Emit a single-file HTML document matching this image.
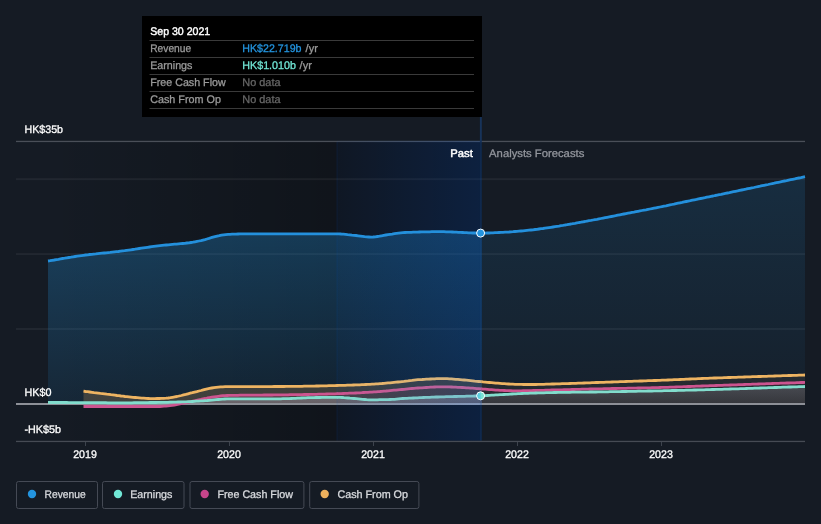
<!DOCTYPE html>
<html lang="en">
<head>
<meta charset="utf-8">
<title>Earnings and Revenue Growth</title>
<style>
html,body{margin:0;padding:0;background:#151b24;}
body{width:821px;height:524px;overflow:hidden;font-family:"Liberation Sans", Arial, Helvetica, sans-serif;}
svg text{font-family:"Liberation Sans", Arial, Helvetica, sans-serif;text-rendering:geometricPrecision;}
</style>
</head>
<body>
<svg width="821" height="524" viewBox="0 0 821 524" font-family='"Liberation Sans", Arial, Helvetica, sans-serif' style="display:block;will-change:transform">
<defs>
<linearGradient id="gDark" x1="0" x2="1" y1="0" y2="0">
  <stop offset="0" stop-color="#000" stop-opacity="0"/>
  <stop offset="0.667" stop-color="#000" stop-opacity="0.26"/>
  <stop offset="1" stop-color="#000" stop-opacity="0.26"/>
</linearGradient>
<linearGradient id="gHL" x1="0" x2="1" y1="0" y2="0">
  <stop offset="0" stop-color="#0050c8" stop-opacity="0.05"/>
  <stop offset="1" stop-color="#0050c8" stop-opacity="0.21"/>
</linearGradient>
<linearGradient id="gRevPast" gradientUnits="userSpaceOnUse" x1="0" x2="0" y1="230" y2="404">
  <stop offset="0" stop-color="#2394df" stop-opacity="0.30"/>
  <stop offset="1" stop-color="#2394df" stop-opacity="0.10"/>
</linearGradient>
<linearGradient id="gRevFut" gradientUnits="userSpaceOnUse" x1="0" x2="0" y1="176" y2="404">
  <stop offset="0" stop-color="#2394df" stop-opacity="0.15"/>
  <stop offset="1" stop-color="#2394df" stop-opacity="0.04"/>
</linearGradient>
<linearGradient id="gErn" gradientUnits="userSpaceOnUse" x1="0" x2="0" y1="386" y2="404">
  <stop offset="0" stop-color="#9a9ea8" stop-opacity="0.27"/>
  <stop offset="1" stop-color="#9a9ea8" stop-opacity="0.10"/>
</linearGradient>
<linearGradient id="gErnP" gradientUnits="userSpaceOnUse" x1="0" x2="0" y1="394" y2="404">
  <stop offset="0" stop-color="#a8b0bc" stop-opacity="0.40"/>
  <stop offset="1" stop-color="#a8b0bc" stop-opacity="0.30"/>
</linearGradient>
<linearGradient id="m_cfo" gradientUnits="userSpaceOnUse" x1="337" x2="481" y1="0" y2="0"><stop offset="0" stop-color="#eeb462"/><stop offset="0.8" stop-color="#d6b47e"/><stop offset="1" stop-color="#d6b47e"/></linearGradient>
<linearGradient id="m_fcf" gradientUnits="userSpaceOnUse" x1="337" x2="481" y1="0" y2="0"><stop offset="0" stop-color="#cc548f"/><stop offset="0.8" stop-color="#b9649f"/><stop offset="1" stop-color="#b9649f"/></linearGradient>
<linearGradient id="m_ern" gradientUnits="userSpaceOnUse" x1="337" x2="481" y1="0" y2="0"><stop offset="0" stop-color="#82ddcd"/><stop offset="0.8" stop-color="#7cc4cc"/><stop offset="1" stop-color="#7cc4cc"/></linearGradient>
<linearGradient id="gDot" x1="0" x2="1" y1="0" y2="0">
  <stop offset="0" stop-color="#56c9e2"/><stop offset="0.45" stop-color="#5fd0dc"/>
  <stop offset="0.6" stop-color="#78e2d2"/><stop offset="1" stop-color="#7fe6d2"/>
</linearGradient>
<linearGradient id="gZeroHL" x1="0" x2="1" y1="0" y2="0">
  <stop offset="0" stop-color="#9fb4dc" stop-opacity="0"/>
  <stop offset="1" stop-color="#9fb4dc" stop-opacity="0.42"/>
</linearGradient>
</defs>
<rect width="821" height="524" fill="#151b24"/>
<rect x="48" y="142" width="433.8" height="299.5" fill="url(#gDark)"/>
<rect x="16" y="178.2" width="789" height="2" fill="#fff" opacity="0.055"/>
<rect x="16" y="253.1" width="789" height="2" fill="#fff" opacity="0.055"/>
<rect x="16" y="328.0" width="789" height="2" fill="#fff" opacity="0.055"/>
<rect x="16" y="140.8" width="789" height="1.3" fill="#4a4f58"/>
<path d="M48.0,261.0 L50.1,260.7 L52.2,260.3 L54.3,260.0 L56.4,259.6 L58.4,259.3 L60.5,258.9 L62.6,258.5 L64.7,258.2 L66.8,257.8 L68.9,257.5 L71.0,257.2 L73.1,256.8 L75.1,256.5 L77.2,256.2 L79.3,255.9 L81.4,255.6 L83.5,255.3 L85.6,255.0 L87.6,254.8 L89.7,254.5 L91.7,254.3 L93.8,254.1 L95.8,253.9 L97.9,253.6 L99.9,253.4 L102.0,253.2 L104.1,253.0 L106.1,252.8 L108.2,252.6 L110.2,252.4 L112.3,252.1 L114.3,251.9 L116.4,251.7 L118.4,251.5 L120.5,251.2 L122.6,250.9 L124.7,250.7 L126.7,250.4 L128.8,250.1 L130.9,249.8 L133.0,249.5 L135.1,249.2 L137.1,248.8 L139.2,248.5 L141.3,248.2 L143.4,247.9 L145.4,247.6 L147.5,247.3 L149.6,247.0 L151.7,246.7 L153.8,246.4 L155.8,246.1 L157.9,245.8 L160.0,245.6 L162.1,245.4 L164.1,245.2 L166.2,245.0 L168.3,244.8 L170.3,244.6 L172.4,244.4 L174.5,244.2 L176.5,244.1 L178.6,243.9 L180.7,243.7 L182.7,243.5 L184.8,243.3 L186.9,243.0 L188.9,242.8 L191.0,242.5 L193.0,242.2 L195.0,241.8 L197.0,241.4 L199.0,241.0 L201.0,240.6 L203.0,240.1 L205.0,239.6 L207.0,239.0 L209.0,238.4 L211.0,237.7 L213.0,237.1 L215.0,236.6 L217.2,236.1 L219.3,235.7 L221.5,235.2 L223.7,234.9 L225.8,234.6 L228.0,234.4 L230.0,234.3 L232.0,234.2 L234.0,234.1 L236.0,234.1 L238.0,234.0 L240.0,233.9 L242.0,233.9 L244.0,233.8 L246.0,233.8 L248.0,233.8 L250.0,233.8 L252.0,233.8 L254.0,233.8 L256.0,233.8 L258.0,233.8 L260.0,233.8 L262.0,233.8 L264.0,233.8 L266.0,233.8 L268.0,233.8 L270.0,233.8 L272.0,233.8 L274.0,233.8 L276.0,233.8 L278.0,233.8 L280.0,233.8 L282.0,233.8 L284.0,233.8 L286.0,233.8 L288.0,233.8 L290.0,233.8 L292.0,233.8 L294.1,233.8 L296.1,233.8 L298.2,233.8 L300.2,233.8 L302.3,233.8 L304.3,233.8 L306.3,233.8 L308.4,233.8 L310.4,233.8 L312.5,233.8 L314.5,233.8 L316.6,233.8 L318.6,233.8 L320.7,233.8 L322.7,233.8 L324.7,233.8 L326.8,233.8 L328.8,233.8 L330.9,233.8 L332.9,233.8 L335.0,233.8 L337.0,233.8 L339.1,233.8 L341.2,234.0 L343.4,234.1 L345.5,234.3 L347.6,234.6 L349.8,234.8 L351.9,235.1 L354.0,235.3 L356.1,235.5 L358.2,235.8 L360.4,236.1 L362.5,236.4 L364.6,236.7 L366.8,236.9 L368.9,237.0 L371.0,237.1 L373.1,237.0 L375.2,236.8 L377.4,236.5 L379.5,236.2 L381.6,235.8 L383.8,235.4 L385.9,235.0 L388.0,234.7 L390.1,234.4 L392.2,234.1 L394.4,233.7 L396.5,233.4 L398.6,233.1 L400.8,232.8 L402.9,232.6 L405.0,232.5 L407.1,232.4 L409.1,232.3 L411.2,232.3 L413.2,232.2 L415.3,232.1 L417.4,232.1 L419.4,232.0 L421.5,231.9 L423.5,231.9 L425.6,231.8 L427.6,231.8 L429.7,231.8 L431.8,231.7 L433.8,231.7 L435.9,231.7 L437.9,231.7 L440.0,231.7 L442.1,231.7 L444.1,231.7 L446.1,231.8 L448.2,231.8 L450.2,231.9 L452.3,232.0 L454.4,232.1 L456.4,232.2 L458.4,232.3 L460.5,232.4 L462.6,232.5 L464.6,232.6 L466.6,232.7 L468.7,232.8 L470.8,232.9 L472.8,233.0 L474.9,233.0 L476.9,233.1 L478.9,233.1 L481.0,233.1 L481.8,233.1 L481.8,404 L48.0,404 Z" fill="url(#gRevPast)"/>
<path d="M481.8,233.1 L483.0,233.1 L485.0,233.1 L487.0,233.0 L489.0,233.0 L491.0,232.9 L493.0,232.8 L495.0,232.7 L497.0,232.6 L499.0,232.5 L501.0,232.4 L503.0,232.3 L505.0,232.2 L507.0,232.1 L509.0,232.0 L511.0,231.8 L513.0,231.7 L515.0,231.5 L517.0,231.4 L519.0,231.2 L521.0,231.0 L523.0,230.8 L525.0,230.6 L527.0,230.4 L529.0,230.2 L531.0,230.0 L533.0,229.8 L535.0,229.5 L537.0,229.3 L539.0,229.0 L541.0,228.7 L543.0,228.5 L545.0,228.2 L547.0,227.9 L549.0,227.6 L551.0,227.3 L553.0,227.0 L555.0,226.7 L557.0,226.4 L559.0,226.1 L561.0,225.7 L563.0,225.4 L565.0,225.0 L567.0,224.7 L569.0,224.3 L571.0,224.0 L573.0,223.6 L575.0,223.3 L577.0,222.9 L579.0,222.5 L581.0,222.2 L583.0,221.8 L585.0,221.5 L587.0,221.1 L589.0,220.7 L591.0,220.4 L593.0,220.0 L595.0,219.6 L597.0,219.3 L599.0,218.9 L601.0,218.5 L603.1,218.1 L605.2,217.7 L607.2,217.3 L609.3,216.9 L611.4,216.5 L613.5,216.1 L615.6,215.7 L617.7,215.2 L619.8,214.8 L621.8,214.4 L623.9,214.0 L626.0,213.6 L628.0,213.2 L630.0,212.8 L632.0,212.4 L634.0,212.1 L636.0,211.7 L638.0,211.3 L640.0,210.9 L642.0,210.5 L644.0,210.1 L646.0,209.8 L648.0,209.4 L650.0,209.0 L652.0,208.6 L654.0,208.2 L656.0,207.8 L658.0,207.4 L660.0,207.0 L662.0,206.6 L664.0,206.2 L666.0,205.8 L668.0,205.3 L670.0,204.9 L672.0,204.5 L674.0,204.1 L676.0,203.6 L678.0,203.2 L680.0,202.8 L682.1,202.4 L684.1,201.9 L686.2,201.5 L688.3,201.1 L690.4,200.7 L692.4,200.2 L694.5,199.8 L696.6,199.4 L698.6,198.9 L700.7,198.5 L702.8,198.1 L704.9,197.7 L706.9,197.2 L709.0,196.8 L711.0,196.4 L713.1,196.0 L715.1,195.5 L717.2,195.1 L719.2,194.7 L721.2,194.3 L723.3,193.8 L725.3,193.4 L727.4,193.0 L729.4,192.6 L731.5,192.1 L733.5,191.7 L735.5,191.3 L737.6,190.9 L739.6,190.4 L741.7,190.0 L743.7,189.6 L745.8,189.2 L747.8,188.7 L749.8,188.3 L751.9,187.9 L753.9,187.5 L756.0,187.0 L758.0,186.6 L760.0,186.2 L762.1,185.7 L764.1,185.3 L766.2,184.9 L768.2,184.5 L770.3,184.0 L772.3,183.6 L774.3,183.2 L776.4,182.7 L778.4,182.3 L780.5,181.9 L782.5,181.4 L784.6,181.0 L786.6,180.6 L788.7,180.1 L790.7,179.7 L792.7,179.3 L794.8,178.9 L796.8,178.4 L798.9,178.0 L800.9,177.6 L803.0,177.1 L805.0,176.7 L805.0,404 L481.8,404 Z" fill="url(#gRevFut)"/>
<path d="M83.5,391.2 L85.6,391.5 L87.7,391.7 L89.8,392.0 L92.0,392.3 L94.1,392.6 L96.2,392.8 L98.3,393.1 L100.4,393.4 L102.5,393.6 L104.7,393.9 L106.8,394.2 L108.9,394.4 L111.0,394.7 L113.0,394.9 L115.0,395.2 L117.0,395.5 L119.0,395.7 L121.0,396.0 L123.0,396.2 L125.0,396.5 L127.0,396.7 L129.0,396.9 L131.0,397.1 L133.0,397.3 L135.2,397.5 L137.3,397.7 L139.5,397.9 L141.7,398.1 L143.8,398.2 L146.0,398.4 L148.2,398.5 L150.3,398.6 L152.5,398.6 L154.8,398.6 L157.0,398.5 L159.2,398.5 L161.5,398.4 L163.8,398.3 L166.0,398.2 L168.2,398.0 L170.4,397.7 L172.6,397.3 L174.8,396.9 L177.0,396.5 L179.2,396.0 L181.4,395.5 L183.6,394.9 L185.8,394.4 L188.0,393.8 L190.2,393.2 L192.4,392.7 L194.6,392.1 L196.8,391.6 L199.0,391.0 L201.1,390.5 L203.2,389.9 L205.3,389.3 L207.4,388.8 L209.5,388.4 L211.7,388.0 L213.9,387.6 L216.1,387.3 L218.3,387.1 L220.5,386.9 L222.8,386.8 L225.1,386.7 L227.4,386.7 L229.7,386.6 L232.0,386.6 L234.0,386.6 L236.0,386.6 L238.0,386.6 L240.0,386.6 L242.0,386.6 L244.0,386.6 L246.0,386.6 L248.0,386.6 L250.0,386.6 L252.0,386.6 L254.0,386.6 L256.0,386.6 L258.0,386.6 L260.0,386.6 L262.0,386.6 L264.0,386.6 L266.0,386.6 L268.0,386.6 L270.0,386.6 L272.0,386.6 L274.0,386.5 L276.0,386.5 L278.0,386.5 L280.0,386.5 L282.0,386.5 L284.0,386.5 L286.0,386.4 L288.0,386.4 L290.0,386.4 L292.0,386.4 L294.0,386.4 L296.0,386.3 L298.0,386.3 L300.0,386.3 L302.1,386.3 L304.1,386.2 L306.2,386.2 L308.2,386.2 L310.3,386.1 L312.3,386.1 L314.4,386.1 L316.4,386.0 L318.5,386.0 L320.6,385.9 L322.6,385.9 L324.7,385.8 L326.7,385.8 L328.8,385.7 L330.8,385.7 L332.9,385.6 L334.9,385.6 L337.0,385.5 L339.1,385.4 L341.1,385.4 L343.2,385.3 L345.2,385.3 L347.3,385.2 L349.4,385.1 L351.4,385.1 L353.5,385.0 L355.6,384.9 L357.6,384.8 L359.7,384.8 L361.8,384.7 L363.8,384.6 L365.9,384.5 L367.9,384.4 L370.0,384.3 L372.0,384.2 L374.0,384.1 L376.0,383.9 L378.0,383.8 L380.0,383.6 L382.0,383.5 L384.0,383.3 L386.0,383.1 L388.0,382.9 L390.0,382.8 L392.0,382.6 L394.0,382.4 L396.0,382.2 L398.0,382.0 L400.0,381.8 L402.0,381.6 L404.0,381.4 L406.0,381.1 L408.0,380.9 L410.0,380.6 L412.0,380.4 L414.0,380.1 L416.0,379.9 L418.0,379.7 L420.0,379.6 L422.1,379.5 L424.2,379.3 L426.3,379.2 L428.4,379.1 L430.5,379.0 L432.5,378.9 L434.6,378.8 L436.7,378.7 L438.8,378.6 L440.9,378.6 L443.0,378.6 L445.1,378.6 L447.2,378.7 L449.4,378.8 L451.5,378.9 L453.6,379.1 L455.8,379.3 L457.9,379.4 L460.0,379.6 L462.1,379.8 L464.2,380.0 L466.3,380.2 L468.4,380.4 L470.5,380.6 L472.6,380.8 L474.7,381.1 L476.8,381.3 L478.9,381.5 L481.0,381.7 L481.8,381.8 L481.8,404 L83.5,404 Z" fill="#eeb15d" opacity="0.2"/>
<path d="M481.8,381.8 L483.1,381.9 L485.2,382.1 L487.3,382.3 L489.4,382.5 L491.6,382.7 L493.7,382.9 L495.8,383.1 L497.9,383.2 L500.0,383.4 L502.1,383.6 L504.3,383.7 L506.4,383.9 L508.6,384.0 L510.7,384.1 L512.9,384.2 L515.0,384.3 L517.1,384.3 L519.3,384.4 L521.4,384.4 L523.6,384.5 L525.7,384.5 L527.9,384.5 L530.0,384.5 L532.0,384.5 L534.0,384.5 L536.0,384.5 L538.0,384.4 L540.0,384.4 L542.0,384.3 L544.0,384.3 L546.0,384.2 L548.0,384.2 L550.0,384.1 L552.0,384.0 L554.0,384.0 L556.0,383.9 L558.0,383.9 L560.0,383.8 L562.0,383.7 L564.0,383.7 L566.0,383.6 L568.0,383.6 L570.0,383.5 L572.0,383.4 L574.0,383.4 L576.0,383.3 L578.0,383.2 L580.0,383.1 L582.0,383.1 L584.0,383.0 L586.0,382.9 L588.0,382.8 L590.0,382.8 L592.0,382.7 L594.0,382.6 L596.0,382.5 L598.0,382.5 L600.0,382.4 L602.0,382.3 L604.0,382.3 L606.0,382.2 L608.0,382.1 L610.0,382.1 L612.0,382.0 L614.0,381.9 L616.0,381.9 L618.0,381.8 L620.0,381.7 L622.0,381.6 L624.0,381.6 L626.0,381.5 L628.0,381.4 L630.0,381.4 L632.0,381.3 L634.0,381.2 L636.0,381.2 L638.0,381.1 L640.0,381.0 L642.0,381.0 L644.0,380.9 L646.0,380.8 L648.0,380.7 L650.0,380.7 L652.0,380.6 L654.0,380.5 L656.0,380.5 L658.0,380.4 L660.0,380.3 L662.0,380.2 L664.0,380.1 L666.0,380.1 L668.0,380.0 L670.0,379.9 L672.0,379.8 L674.0,379.7 L676.0,379.6 L678.0,379.6 L680.0,379.5 L682.0,379.4 L684.0,379.3 L686.0,379.2 L688.0,379.1 L690.0,379.0 L692.0,378.9 L694.0,378.9 L696.0,378.8 L698.0,378.7 L700.0,378.6 L702.0,378.5 L704.0,378.4 L706.0,378.4 L708.0,378.3 L710.0,378.2 L712.0,378.1 L714.0,378.0 L716.1,378.0 L718.1,377.9 L720.1,377.8 L722.1,377.8 L724.1,377.7 L726.2,377.6 L728.2,377.5 L730.2,377.5 L732.2,377.4 L734.3,377.3 L736.3,377.3 L738.3,377.2 L740.3,377.1 L742.3,377.1 L744.4,377.0 L746.4,376.9 L748.4,376.9 L750.4,376.8 L752.4,376.7 L754.5,376.7 L756.5,376.6 L758.5,376.5 L760.5,376.5 L762.6,376.4 L764.6,376.3 L766.6,376.3 L768.6,376.2 L770.6,376.1 L772.7,376.1 L774.7,376.0 L776.7,375.9 L778.7,375.9 L780.7,375.8 L782.8,375.7 L784.8,375.7 L786.8,375.6 L788.8,375.5 L790.9,375.5 L792.9,375.4 L794.9,375.3 L796.9,375.3 L798.9,375.2 L801.0,375.1 L803.0,375.1 L805.0,375.0 L805.0,404 L481.8,404 Z" fill="#eeb15d" opacity="0.075"/>
<path d="M83.5,406.5 L85.5,406.5 L87.6,406.5 L89.6,406.5 L91.6,406.5 L93.6,406.5 L95.7,406.5 L97.7,406.5 L99.7,406.5 L101.8,406.5 L103.8,406.5 L105.8,406.5 L107.8,406.5 L109.9,406.5 L111.9,406.5 L113.9,406.5 L115.9,406.5 L118.0,406.5 L120.0,406.5 L122.0,406.5 L124.0,406.5 L126.0,406.5 L128.0,406.5 L130.0,406.5 L132.0,406.5 L134.0,406.5 L136.0,406.5 L138.0,406.5 L140.0,406.5 L142.0,406.5 L144.0,406.5 L146.0,406.5 L148.0,406.5 L150.0,406.5 L152.0,406.5 L154.0,406.5 L156.0,406.5 L158.0,406.5 L160.0,406.5 L162.0,406.4 L164.0,406.2 L166.0,406.1 L168.0,405.9 L170.0,405.7 L172.2,405.4 L174.4,405.0 L176.6,404.6 L178.8,404.2 L181.0,403.7 L183.2,403.2 L185.4,402.8 L187.6,402.3 L189.8,401.8 L192.0,401.3 L194.2,400.8 L196.4,400.3 L198.6,399.8 L200.8,399.4 L203.0,398.9 L205.2,398.5 L207.4,398.0 L209.6,397.6 L211.8,397.2 L214.0,396.9 L216.2,396.6 L218.4,396.3 L220.6,396.0 L222.8,395.7 L225.0,395.6 L227.2,395.5 L229.4,395.4 L231.6,395.4 L233.8,395.3 L236.0,395.3 L238.0,395.3 L240.0,395.2 L242.0,395.2 L244.0,395.2 L246.0,395.2 L248.0,395.2 L250.0,395.2 L252.0,395.2 L254.0,395.1 L256.0,395.1 L258.0,395.1 L260.0,395.1 L262.0,395.1 L264.0,395.0 L266.0,395.0 L268.0,395.0 L270.0,395.0 L272.0,395.0 L274.0,394.9 L276.0,394.9 L278.0,394.9 L280.0,394.9 L282.0,394.8 L284.0,394.8 L286.0,394.8 L288.0,394.8 L290.0,394.7 L292.0,394.7 L294.0,394.7 L296.0,394.7 L298.0,394.6 L300.0,394.6 L302.1,394.6 L304.1,394.5 L306.2,394.5 L308.2,394.5 L310.3,394.4 L312.3,394.4 L314.4,394.3 L316.4,394.3 L318.5,394.2 L320.6,394.2 L322.6,394.1 L324.7,394.1 L326.7,394.0 L328.8,393.9 L330.8,393.9 L332.9,393.8 L334.9,393.8 L337.0,393.7 L339.1,393.6 L341.1,393.6 L343.2,393.5 L345.2,393.4 L347.3,393.3 L349.4,393.2 L351.4,393.2 L353.5,393.1 L355.6,393.0 L357.6,392.9 L359.7,392.8 L361.8,392.7 L363.8,392.5 L365.9,392.4 L367.9,392.3 L370.0,392.2 L372.0,392.1 L374.0,391.9 L376.0,391.8 L378.0,391.6 L380.0,391.5 L382.0,391.3 L384.0,391.1 L386.0,391.0 L388.0,390.8 L390.0,390.6 L392.0,390.4 L394.0,390.2 L396.0,390.1 L398.0,389.9 L400.0,389.7 L402.0,389.5 L404.0,389.3 L406.0,389.1 L408.0,388.9 L410.0,388.7 L412.0,388.5 L414.0,388.4 L416.0,388.2 L418.0,388.0 L420.0,387.9 L422.1,387.8 L424.2,387.6 L426.3,387.5 L428.4,387.4 L430.5,387.2 L432.5,387.1 L434.6,387.0 L436.7,386.9 L438.8,386.9 L440.9,386.8 L443.0,386.8 L445.1,386.8 L447.2,386.9 L449.4,386.9 L451.5,387.0 L453.6,387.1 L455.8,387.2 L457.9,387.3 L460.0,387.4 L462.1,387.5 L464.2,387.6 L466.3,387.8 L468.4,387.9 L470.5,388.1 L472.6,388.2 L474.7,388.4 L476.8,388.6 L478.9,388.7 L481.0,388.9 L481.8,389.0 L481.8,404 L83.5,404 Z" fill="#c7458b" opacity="0.09"/>
<path d="M481.8,389.0 L483.1,389.1 L485.2,389.2 L487.3,389.4 L489.4,389.6 L491.6,389.7 L493.7,389.9 L495.8,390.1 L497.9,390.2 L500.0,390.3 L502.1,390.4 L504.3,390.5 L506.4,390.6 L508.6,390.7 L510.7,390.7 L512.9,390.8 L515.0,390.8 L517.0,390.8 L519.1,390.8 L521.1,390.8 L523.2,390.7 L525.2,390.7 L527.3,390.7 L529.3,390.6 L531.4,390.6 L533.4,390.5 L535.5,390.5 L537.5,390.4 L539.5,390.4 L541.6,390.3 L543.6,390.3 L545.7,390.2 L547.7,390.1 L549.8,390.1 L551.8,390.0 L553.9,390.0 L555.9,389.9 L558.0,389.8 L560.0,389.8 L562.0,389.8 L564.0,389.7 L566.0,389.7 L568.0,389.6 L570.0,389.6 L572.0,389.5 L574.0,389.5 L576.0,389.4 L578.0,389.4 L580.0,389.3 L582.0,389.2 L584.0,389.2 L586.0,389.1 L588.0,389.1 L590.0,389.0 L592.0,389.0 L594.0,388.9 L596.0,388.9 L598.0,388.8 L600.0,388.8 L602.0,388.8 L604.0,388.7 L606.0,388.7 L608.0,388.6 L610.0,388.6 L612.0,388.5 L614.0,388.5 L616.0,388.5 L618.0,388.4 L620.0,388.4 L622.0,388.3 L624.0,388.3 L626.0,388.3 L628.0,388.2 L630.0,388.2 L632.0,388.1 L634.0,388.1 L636.0,388.1 L638.0,388.0 L640.0,388.0 L642.0,387.9 L644.0,387.9 L646.0,387.8 L648.0,387.8 L650.0,387.8 L652.0,387.7 L654.0,387.7 L656.0,387.6 L658.0,387.6 L660.0,387.5 L662.0,387.4 L664.0,387.4 L666.0,387.3 L668.0,387.3 L670.0,387.2 L672.0,387.1 L674.0,387.1 L676.0,387.0 L678.0,386.9 L680.0,386.8 L682.0,386.8 L684.0,386.7 L686.0,386.6 L688.0,386.5 L690.0,386.5 L692.0,386.4 L694.0,386.3 L696.0,386.2 L698.0,386.1 L700.0,386.1 L702.0,386.0 L704.0,385.9 L706.0,385.8 L708.0,385.8 L710.0,385.7 L712.0,385.6 L714.0,385.6 L716.1,385.5 L718.1,385.4 L720.1,385.3 L722.1,385.3 L724.1,385.2 L726.2,385.1 L728.2,385.1 L730.2,385.0 L732.2,384.9 L734.3,384.8 L736.3,384.8 L738.3,384.7 L740.3,384.6 L742.3,384.6 L744.4,384.5 L746.4,384.4 L748.4,384.4 L750.4,384.3 L752.4,384.2 L754.5,384.1 L756.5,384.1 L758.5,384.0 L760.5,383.9 L762.6,383.9 L764.6,383.8 L766.6,383.7 L768.6,383.7 L770.6,383.6 L772.7,383.5 L774.7,383.4 L776.7,383.4 L778.7,383.3 L780.7,383.2 L782.8,383.2 L784.8,383.1 L786.8,383.0 L788.8,383.0 L790.9,382.9 L792.9,382.8 L794.9,382.8 L796.9,382.7 L798.9,382.6 L801.0,382.5 L803.0,382.5 L805.0,382.4 L805.0,404 L481.8,404 Z" fill="#c7458b" opacity="0.025"/>
<path d="M48.0,402.5 L50.1,402.5 L52.2,402.5 L54.3,402.5 L56.4,402.5 L58.4,402.5 L60.5,402.5 L62.6,402.5 L64.7,402.5 L66.8,402.5 L68.9,402.6 L71.0,402.6 L73.1,402.6 L75.1,402.6 L77.2,402.6 L79.3,402.6 L81.4,402.6 L83.5,402.6 L85.5,402.6 L87.6,402.6 L89.6,402.6 L91.6,402.6 L93.6,402.7 L95.7,402.7 L97.7,402.7 L99.7,402.7 L101.8,402.7 L103.8,402.7 L105.8,402.7 L107.8,402.8 L109.9,402.8 L111.9,402.8 L113.9,402.8 L115.9,402.8 L118.0,402.8 L120.0,402.8 L122.0,402.8 L124.0,402.8 L126.0,402.8 L128.0,402.8 L130.0,402.8 L132.0,402.8 L134.0,402.7 L136.0,402.7 L138.0,402.7 L140.0,402.7 L142.0,402.6 L144.0,402.6 L146.0,402.6 L148.0,402.6 L150.0,402.5 L152.0,402.5 L154.0,402.5 L156.0,402.5 L158.0,402.4 L160.0,402.4 L162.0,402.4 L164.0,402.3 L166.0,402.3 L168.0,402.3 L170.0,402.2 L172.0,402.2 L174.0,402.1 L176.0,402.1 L178.0,402.0 L180.0,402.0 L182.0,401.9 L184.0,401.8 L186.0,401.8 L188.0,401.7 L190.2,401.6 L192.3,401.5 L194.4,401.4 L196.6,401.2 L198.8,401.1 L200.9,400.9 L203.1,400.8 L205.2,400.6 L207.3,400.5 L209.5,400.3 L211.7,400.1 L213.9,399.9 L216.1,399.7 L218.2,399.5 L220.4,399.3 L222.6,399.1 L224.8,399.0 L227.0,398.9 L229.2,398.9 L231.3,398.8 L233.5,398.8 L235.7,398.8 L237.8,398.8 L240.0,398.8 L242.0,398.8 L244.0,398.8 L246.0,398.8 L248.0,398.8 L250.0,398.9 L252.0,398.9 L254.0,398.9 L256.0,398.9 L258.0,398.9 L260.1,398.9 L262.2,398.9 L264.2,398.9 L266.3,398.9 L268.4,398.9 L270.5,398.9 L272.5,398.8 L274.6,398.8 L276.7,398.8 L278.8,398.8 L280.8,398.8 L282.9,398.7 L285.0,398.7 L287.1,398.7 L289.2,398.6 L291.2,398.5 L293.3,398.4 L295.4,398.3 L297.5,398.2 L299.5,398.1 L301.6,398.0 L303.7,397.9 L305.8,397.8 L307.8,397.7 L309.9,397.7 L312.0,397.6 L314.0,397.6 L316.0,397.5 L318.0,397.5 L320.0,397.5 L322.0,397.4 L324.0,397.4 L326.0,397.4 L328.0,397.3 L330.0,397.3 L332.0,397.3 L334.0,397.3 L336.0,397.3 L338.0,397.3 L340.0,397.4 L342.0,397.5 L344.0,397.7 L346.0,397.8 L348.0,398.0 L350.0,398.2 L352.0,398.3 L354.1,398.5 L356.2,398.7 L358.3,398.9 L360.4,399.1 L362.6,399.3 L364.7,399.5 L366.8,399.7 L368.9,399.8 L371.0,399.8 L373.1,399.8 L375.2,399.8 L377.4,399.8 L379.5,399.7 L381.6,399.7 L383.8,399.7 L385.9,399.6 L388.0,399.6 L390.1,399.5 L392.2,399.4 L394.4,399.3 L396.5,399.1 L398.6,398.9 L400.8,398.7 L402.9,398.5 L405.0,398.4 L407.1,398.3 L409.1,398.2 L411.2,398.1 L413.2,398.0 L415.3,397.9 L417.4,397.8 L419.4,397.7 L421.5,397.6 L423.5,397.5 L425.6,397.4 L427.6,397.3 L429.7,397.3 L431.8,397.2 L433.8,397.1 L435.9,397.0 L437.9,397.0 L440.0,396.9 L442.1,396.8 L444.1,396.8 L446.1,396.7 L448.2,396.7 L450.2,396.6 L452.3,396.6 L454.4,396.5 L456.4,396.5 L458.4,396.4 L460.5,396.4 L462.6,396.3 L464.6,396.3 L466.6,396.2 L468.7,396.2 L470.8,396.1 L472.8,396.1 L474.9,396.0 L476.9,395.9 L478.9,395.9 L481.0,395.8 L481.8,395.8 L481.8,404 L48.0,404 Z" fill="url(#gErnP)"/>
<path d="M481.8,395.8 L483.1,395.7 L485.2,395.6 L487.3,395.5 L489.4,395.4 L491.6,395.2 L493.7,395.1 L495.8,394.9 L497.9,394.8 L500.0,394.7 L502.0,394.6 L504.0,394.5 L506.0,394.4 L508.0,394.3 L510.0,394.1 L512.0,394.0 L514.0,393.9 L516.0,393.8 L518.0,393.7 L520.0,393.6 L522.0,393.5 L524.0,393.4 L526.0,393.4 L528.0,393.3 L530.0,393.2 L532.0,393.1 L534.0,393.1 L536.0,393.0 L538.0,392.9 L540.0,392.9 L542.0,392.8 L544.0,392.8 L546.0,392.7 L548.0,392.7 L550.0,392.6 L552.0,392.6 L554.0,392.5 L556.0,392.5 L558.0,392.4 L560.0,392.4 L562.0,392.4 L564.0,392.3 L566.0,392.3 L568.0,392.3 L570.0,392.3 L572.0,392.2 L574.0,392.2 L576.0,392.2 L578.0,392.2 L580.0,392.1 L582.0,392.1 L584.0,392.1 L586.0,392.1 L588.0,392.1 L590.0,392.0 L592.0,392.0 L594.0,392.0 L596.0,392.0 L598.0,391.9 L600.0,391.9 L602.0,391.9 L604.0,391.8 L606.0,391.8 L608.0,391.8 L610.0,391.7 L612.0,391.7 L614.0,391.7 L616.0,391.6 L618.0,391.6 L620.0,391.6 L622.0,391.5 L624.0,391.5 L626.0,391.5 L628.0,391.4 L630.0,391.4 L632.0,391.4 L634.0,391.3 L636.0,391.3 L638.0,391.2 L640.0,391.2 L642.0,391.2 L644.0,391.1 L646.0,391.1 L648.0,391.0 L650.0,391.0 L652.0,391.0 L654.0,390.9 L656.0,390.9 L658.0,390.8 L660.0,390.8 L662.0,390.8 L664.0,390.7 L666.0,390.7 L668.0,390.6 L670.0,390.6 L672.0,390.5 L674.0,390.5 L676.0,390.5 L678.0,390.4 L680.0,390.4 L682.0,390.3 L684.0,390.3 L686.0,390.2 L688.0,390.2 L690.0,390.1 L692.0,390.1 L694.0,390.0 L696.0,390.0 L698.0,389.9 L700.0,389.9 L702.0,389.8 L704.0,389.8 L706.0,389.7 L708.0,389.7 L710.0,389.6 L712.0,389.5 L714.0,389.5 L716.1,389.4 L718.1,389.4 L720.1,389.3 L722.1,389.3 L724.1,389.2 L726.2,389.1 L728.2,389.1 L730.2,389.0 L732.2,388.9 L734.3,388.9 L736.3,388.8 L738.3,388.8 L740.3,388.7 L742.3,388.6 L744.4,388.6 L746.4,388.5 L748.4,388.4 L750.4,388.4 L752.4,388.3 L754.5,388.2 L756.5,388.1 L758.5,388.1 L760.5,388.0 L762.6,387.9 L764.6,387.9 L766.6,387.8 L768.6,387.7 L770.6,387.7 L772.7,387.6 L774.7,387.5 L776.7,387.5 L778.7,387.4 L780.7,387.3 L782.8,387.2 L784.8,387.2 L786.8,387.1 L788.8,387.0 L790.9,387.0 L792.9,386.9 L794.9,386.8 L796.9,386.8 L798.9,386.7 L801.0,386.6 L803.0,386.6 L805.0,386.5 L805.0,404 L481.8,404 Z" fill="url(#gErn)"/>
<rect x="16" y="403" width="789" height="2" fill="#8d9097"/>
<rect x="16" y="441" width="789" height="1" fill="#454b54"/>
<rect x="85" y="442" width="1" height="4" fill="#3d434d"/>
<text x="73.2" y="457.8" font-size="11" fill="#fff" text-anchor="start" font-weight="normal" textLength="23.6" lengthAdjust="spacingAndGlyphs" stroke="#fff" stroke-width="0.3">2019</text>
<rect x="229" y="442" width="1" height="4" fill="#3d434d"/>
<text x="217.2" y="457.8" font-size="11" fill="#fff" text-anchor="start" font-weight="normal" textLength="23.6" lengthAdjust="spacingAndGlyphs" stroke="#fff" stroke-width="0.3">2020</text>
<rect x="373" y="442" width="1" height="4" fill="#3d434d"/>
<text x="361.2" y="457.8" font-size="11" fill="#fff" text-anchor="start" font-weight="normal" textLength="23.6" lengthAdjust="spacingAndGlyphs" stroke="#fff" stroke-width="0.3">2021</text>
<rect x="517" y="442" width="1" height="4" fill="#3d434d"/>
<text x="505.2" y="457.8" font-size="11" fill="#fff" text-anchor="start" font-weight="normal" textLength="23.6" lengthAdjust="spacingAndGlyphs" stroke="#fff" stroke-width="0.3">2022</text>
<rect x="661" y="442" width="1" height="4" fill="#3d434d"/>
<text x="649.2" y="457.8" font-size="11" fill="#fff" text-anchor="start" font-weight="normal" textLength="23.6" lengthAdjust="spacingAndGlyphs" stroke="#fff" stroke-width="0.3">2023</text>
<rect x="337" y="140.8" width="144.8" height="300.0" fill="url(#gHL)"/>
<rect x="336" y="142" width="2" height="298.8" fill="#0050c8" opacity="0.06"/>
<rect x="337" y="403" width="144.8" height="2" fill="url(#gZeroHL)"/>
<rect x="479.9" y="117" width="1.9" height="25" fill="#17335a"/>
<rect x="479.9" y="142" width="1.9" height="298.8" fill="#1c4a86" opacity="0.2"/>
<path d="M48.0,261.0 L50.1,260.7 L52.2,260.3 L54.3,260.0 L56.4,259.6 L58.4,259.3 L60.5,258.9 L62.6,258.5 L64.7,258.2 L66.8,257.8 L68.9,257.5 L71.0,257.2 L73.1,256.8 L75.1,256.5 L77.2,256.2 L79.3,255.9 L81.4,255.6 L83.5,255.3 L85.6,255.0 L87.6,254.8 L89.7,254.5 L91.7,254.3 L93.8,254.1 L95.8,253.9 L97.9,253.6 L99.9,253.4 L102.0,253.2 L104.1,253.0 L106.1,252.8 L108.2,252.6 L110.2,252.4 L112.3,252.1 L114.3,251.9 L116.4,251.7 L118.4,251.5 L120.5,251.2 L122.6,250.9 L124.7,250.7 L126.7,250.4 L128.8,250.1 L130.9,249.8 L133.0,249.5 L135.1,249.2 L137.1,248.8 L139.2,248.5 L141.3,248.2 L143.4,247.9 L145.4,247.6 L147.5,247.3 L149.6,247.0 L151.7,246.7 L153.8,246.4 L155.8,246.1 L157.9,245.8 L160.0,245.6 L162.1,245.4 L164.1,245.2 L166.2,245.0 L168.3,244.8 L170.3,244.6 L172.4,244.4 L174.5,244.2 L176.5,244.1 L178.6,243.9 L180.7,243.7 L182.7,243.5 L184.8,243.3 L186.9,243.0 L188.9,242.8 L191.0,242.5 L193.0,242.2 L195.0,241.8 L197.0,241.4 L199.0,241.0 L201.0,240.6 L203.0,240.1 L205.0,239.6 L207.0,239.0 L209.0,238.4 L211.0,237.7 L213.0,237.1 L215.0,236.6 L217.2,236.1 L219.3,235.7 L221.5,235.2 L223.7,234.9 L225.8,234.6 L228.0,234.4 L230.0,234.3 L232.0,234.2 L234.0,234.1 L236.0,234.1 L238.0,234.0 L240.0,233.9 L242.0,233.9 L244.0,233.8 L246.0,233.8 L248.0,233.8 L250.0,233.8 L252.0,233.8 L254.0,233.8 L256.0,233.8 L258.0,233.8 L260.0,233.8 L262.0,233.8 L264.0,233.8 L266.0,233.8 L268.0,233.8 L270.0,233.8 L272.0,233.8 L274.0,233.8 L276.0,233.8 L278.0,233.8 L280.0,233.8 L282.0,233.8 L284.0,233.8 L286.0,233.8 L288.0,233.8 L290.0,233.8 L292.0,233.8 L294.1,233.8 L296.1,233.8 L298.2,233.8 L300.2,233.8 L302.3,233.8 L304.3,233.8 L306.3,233.8 L308.4,233.8 L310.4,233.8 L312.5,233.8 L314.5,233.8 L316.6,233.8 L318.6,233.8 L320.7,233.8 L322.7,233.8 L324.7,233.8 L326.8,233.8 L328.8,233.8 L330.9,233.8 L332.9,233.8 L335.0,233.8 L337.0,233.8 L339.1,233.8 L341.2,234.0 L343.4,234.1 L345.5,234.3 L347.6,234.6 L349.8,234.8 L351.9,235.1 L354.0,235.3 L356.1,235.5 L358.2,235.8 L360.4,236.1 L362.5,236.4 L364.6,236.7 L366.8,236.9 L368.9,237.0 L371.0,237.1 L373.1,237.0 L375.2,236.8 L377.4,236.5 L379.5,236.2 L381.6,235.8 L383.8,235.4 L385.9,235.0 L388.0,234.7 L390.1,234.4 L392.2,234.1 L394.4,233.7 L396.5,233.4 L398.6,233.1 L400.8,232.8 L402.9,232.6 L405.0,232.5 L407.1,232.4 L409.1,232.3 L411.2,232.3 L413.2,232.2 L415.3,232.1 L417.4,232.1 L419.4,232.0 L421.5,231.9 L423.5,231.9 L425.6,231.8 L427.6,231.8 L429.7,231.8 L431.8,231.7 L433.8,231.7 L435.9,231.7 L437.9,231.7 L440.0,231.7 L442.1,231.7 L444.1,231.7 L446.1,231.8 L448.2,231.8 L450.2,231.9 L452.3,232.0 L454.4,232.1 L456.4,232.2 L458.4,232.3 L460.5,232.4 L462.6,232.5 L464.6,232.6 L466.6,232.7 L468.7,232.8 L470.8,232.9 L472.8,233.0 L474.9,233.0 L476.9,233.1 L478.9,233.1 L481.0,233.1 L483.0,233.1 L485.0,233.1 L487.0,233.0 L489.0,233.0 L491.0,232.9 L493.0,232.8 L495.0,232.7 L497.0,232.6 L499.0,232.5 L501.0,232.4 L503.0,232.3 L505.0,232.2 L507.0,232.1 L509.0,232.0 L511.0,231.8 L513.0,231.7 L515.0,231.5 L517.0,231.4 L519.0,231.2 L521.0,231.0 L523.0,230.8 L525.0,230.6 L527.0,230.4 L529.0,230.2 L531.0,230.0 L533.0,229.8 L535.0,229.5 L537.0,229.3 L539.0,229.0 L541.0,228.7 L543.0,228.5 L545.0,228.2 L547.0,227.9 L549.0,227.6 L551.0,227.3 L553.0,227.0 L555.0,226.7 L557.0,226.4 L559.0,226.1 L561.0,225.7 L563.0,225.4 L565.0,225.0 L567.0,224.7 L569.0,224.3 L571.0,224.0 L573.0,223.6 L575.0,223.3 L577.0,222.9 L579.0,222.5 L581.0,222.2 L583.0,221.8 L585.0,221.5 L587.0,221.1 L589.0,220.7 L591.0,220.4 L593.0,220.0 L595.0,219.6 L597.0,219.3 L599.0,218.9 L601.0,218.5 L603.1,218.1 L605.2,217.7 L607.2,217.3 L609.3,216.9 L611.4,216.5 L613.5,216.1 L615.6,215.7 L617.7,215.2 L619.8,214.8 L621.8,214.4 L623.9,214.0 L626.0,213.6 L628.0,213.2 L630.0,212.8 L632.0,212.4 L634.0,212.1 L636.0,211.7 L638.0,211.3 L640.0,210.9 L642.0,210.5 L644.0,210.1 L646.0,209.8 L648.0,209.4 L650.0,209.0 L652.0,208.6 L654.0,208.2 L656.0,207.8 L658.0,207.4 L660.0,207.0 L662.0,206.6 L664.0,206.2 L666.0,205.8 L668.0,205.3 L670.0,204.9 L672.0,204.5 L674.0,204.1 L676.0,203.6 L678.0,203.2 L680.0,202.8 L682.1,202.4 L684.1,201.9 L686.2,201.5 L688.3,201.1 L690.4,200.7 L692.4,200.2 L694.5,199.8 L696.6,199.4 L698.6,198.9 L700.7,198.5 L702.8,198.1 L704.9,197.7 L706.9,197.2 L709.0,196.8 L711.0,196.4 L713.1,196.0 L715.1,195.5 L717.2,195.1 L719.2,194.7 L721.2,194.3 L723.3,193.8 L725.3,193.4 L727.4,193.0 L729.4,192.6 L731.5,192.1 L733.5,191.7 L735.5,191.3 L737.6,190.9 L739.6,190.4 L741.7,190.0 L743.7,189.6 L745.8,189.2 L747.8,188.7 L749.8,188.3 L751.9,187.9 L753.9,187.5 L756.0,187.0 L758.0,186.6 L760.0,186.2 L762.1,185.7 L764.1,185.3 L766.2,184.9 L768.2,184.5 L770.3,184.0 L772.3,183.6 L774.3,183.2 L776.4,182.7 L778.4,182.3 L780.5,181.9 L782.5,181.4 L784.6,181.0 L786.6,180.6 L788.7,180.1 L790.7,179.7 L792.7,179.3 L794.8,178.9 L796.8,178.4 L798.9,178.0 L800.9,177.6 L803.0,177.1 L805.0,176.7" fill="none" stroke="#2490dc" stroke-width="2.8" stroke-linejoin="round" stroke-linecap="butt"/>
<path d="M83.5,391.2 L85.6,391.5 L87.7,391.7 L89.8,392.0 L92.0,392.3 L94.1,392.6 L96.2,392.8 L98.3,393.1 L100.4,393.4 L102.5,393.6 L104.7,393.9 L106.8,394.2 L108.9,394.4 L111.0,394.7 L113.0,394.9 L115.0,395.2 L117.0,395.5 L119.0,395.7 L121.0,396.0 L123.0,396.2 L125.0,396.5 L127.0,396.7 L129.0,396.9 L131.0,397.1 L133.0,397.3 L135.2,397.5 L137.3,397.7 L139.5,397.9 L141.7,398.1 L143.8,398.2 L146.0,398.4 L148.2,398.5 L150.3,398.6 L152.5,398.6 L154.8,398.6 L157.0,398.5 L159.2,398.5 L161.5,398.4 L163.8,398.3 L166.0,398.2 L168.2,398.0 L170.4,397.7 L172.6,397.3 L174.8,396.9 L177.0,396.5 L179.2,396.0 L181.4,395.5 L183.6,394.9 L185.8,394.4 L188.0,393.8 L190.2,393.2 L192.4,392.7 L194.6,392.1 L196.8,391.6 L199.0,391.0 L201.1,390.5 L203.2,389.9 L205.3,389.3 L207.4,388.8 L209.5,388.4 L211.7,388.0 L213.9,387.6 L216.1,387.3 L218.3,387.1 L220.5,386.9 L222.8,386.8 L225.1,386.7 L227.4,386.7 L229.7,386.6 L232.0,386.6 L234.0,386.6 L236.0,386.6 L238.0,386.6 L240.0,386.6 L242.0,386.6 L244.0,386.6 L246.0,386.6 L248.0,386.6 L250.0,386.6 L252.0,386.6 L254.0,386.6 L256.0,386.6 L258.0,386.6 L260.0,386.6 L262.0,386.6 L264.0,386.6 L266.0,386.6 L268.0,386.6 L270.0,386.6 L272.0,386.6 L274.0,386.5 L276.0,386.5 L278.0,386.5 L280.0,386.5 L282.0,386.5 L284.0,386.5 L286.0,386.4 L288.0,386.4 L290.0,386.4 L292.0,386.4 L294.0,386.4 L296.0,386.3 L298.0,386.3 L300.0,386.3 L302.1,386.3 L304.1,386.2 L306.2,386.2 L308.2,386.2 L310.3,386.1 L312.3,386.1 L314.4,386.1 L316.4,386.0 L318.5,386.0 L320.6,385.9 L322.6,385.9 L324.7,385.8 L326.7,385.8 L328.8,385.7 L330.8,385.7 L332.9,385.6 L334.9,385.6 L337.0,385.5 L337.5,385.5" fill="none" stroke="#eeb462" stroke-width="2.8" stroke-linejoin="round" stroke-linecap="butt"/>
<path d="M337.0,385.5 L339.1,385.4 L341.1,385.4 L343.2,385.3 L345.2,385.3 L347.3,385.2 L349.4,385.1 L351.4,385.1 L353.5,385.0 L355.6,384.9 L357.6,384.8 L359.7,384.8 L361.8,384.7 L363.8,384.6 L365.9,384.5 L367.9,384.4 L370.0,384.3 L372.0,384.2 L374.0,384.1 L376.0,383.9 L378.0,383.8 L380.0,383.6 L382.0,383.5 L384.0,383.3 L386.0,383.1 L388.0,382.9 L390.0,382.8 L392.0,382.6 L394.0,382.4 L396.0,382.2 L398.0,382.0 L400.0,381.8 L402.0,381.6 L404.0,381.4 L406.0,381.1 L408.0,380.9 L410.0,380.6 L412.0,380.4 L414.0,380.1 L416.0,379.9 L418.0,379.7 L420.0,379.6 L422.1,379.5 L424.2,379.3 L426.3,379.2 L428.4,379.1 L430.5,379.0 L432.5,378.9 L434.6,378.8 L436.7,378.7 L438.8,378.6 L440.9,378.6 L443.0,378.6 L445.1,378.6 L447.2,378.7 L449.4,378.8 L451.5,378.9 L453.6,379.1 L455.8,379.3 L457.9,379.4 L460.0,379.6 L462.1,379.8 L464.2,380.0 L466.3,380.2 L468.4,380.4 L470.5,380.6 L472.6,380.8 L474.7,381.1 L476.8,381.3 L478.9,381.5 L481.0,381.7 L481.8,381.8" fill="none" stroke="url(#m_cfo)" stroke-width="2.8" stroke-linejoin="round" stroke-linecap="butt"/>
<path d="M481.5,381.7 L483.1,381.9 L485.2,382.1 L487.3,382.3 L489.4,382.5 L491.6,382.7 L493.7,382.9 L495.8,383.1 L497.9,383.2 L500.0,383.4 L502.1,383.6 L504.3,383.7 L506.4,383.9 L508.6,384.0 L510.7,384.1 L512.9,384.2 L515.0,384.3 L517.1,384.3 L519.3,384.4 L521.4,384.4 L523.6,384.5 L525.7,384.5 L527.9,384.5 L530.0,384.5 L532.0,384.5 L534.0,384.5 L536.0,384.5 L538.0,384.4 L540.0,384.4 L542.0,384.3 L544.0,384.3 L546.0,384.2 L548.0,384.2 L550.0,384.1 L552.0,384.0 L554.0,384.0 L556.0,383.9 L558.0,383.9 L560.0,383.8 L562.0,383.7 L564.0,383.7 L566.0,383.6 L568.0,383.6 L570.0,383.5 L572.0,383.4 L574.0,383.4 L576.0,383.3 L578.0,383.2 L580.0,383.1 L582.0,383.1 L584.0,383.0 L586.0,382.9 L588.0,382.8 L590.0,382.8 L592.0,382.7 L594.0,382.6 L596.0,382.5 L598.0,382.5 L600.0,382.4 L602.0,382.3 L604.0,382.3 L606.0,382.2 L608.0,382.1 L610.0,382.1 L612.0,382.0 L614.0,381.9 L616.0,381.9 L618.0,381.8 L620.0,381.7 L622.0,381.6 L624.0,381.6 L626.0,381.5 L628.0,381.4 L630.0,381.4 L632.0,381.3 L634.0,381.2 L636.0,381.2 L638.0,381.1 L640.0,381.0 L642.0,381.0 L644.0,380.9 L646.0,380.8 L648.0,380.7 L650.0,380.7 L652.0,380.6 L654.0,380.5 L656.0,380.5 L658.0,380.4 L660.0,380.3 L662.0,380.2 L664.0,380.1 L666.0,380.1 L668.0,380.0 L670.0,379.9 L672.0,379.8 L674.0,379.7 L676.0,379.6 L678.0,379.6 L680.0,379.5 L682.0,379.4 L684.0,379.3 L686.0,379.2 L688.0,379.1 L690.0,379.0 L692.0,378.9 L694.0,378.9 L696.0,378.8 L698.0,378.7 L700.0,378.6 L702.0,378.5 L704.0,378.4 L706.0,378.4 L708.0,378.3 L710.0,378.2 L712.0,378.1 L714.0,378.0 L716.1,378.0 L718.1,377.9 L720.1,377.8 L722.1,377.8 L724.1,377.7 L726.2,377.6 L728.2,377.5 L730.2,377.5 L732.2,377.4 L734.3,377.3 L736.3,377.3 L738.3,377.2 L740.3,377.1 L742.3,377.1 L744.4,377.0 L746.4,376.9 L748.4,376.9 L750.4,376.8 L752.4,376.7 L754.5,376.7 L756.5,376.6 L758.5,376.5 L760.5,376.5 L762.6,376.4 L764.6,376.3 L766.6,376.3 L768.6,376.2 L770.6,376.1 L772.7,376.1 L774.7,376.0 L776.7,375.9 L778.7,375.9 L780.7,375.8 L782.8,375.7 L784.8,375.7 L786.8,375.6 L788.8,375.5 L790.9,375.5 L792.9,375.4 L794.9,375.3 L796.9,375.3 L798.9,375.2 L801.0,375.1 L803.0,375.1 L805.0,375.0" fill="none" stroke="#eeb462" stroke-width="2.8" stroke-linejoin="round" stroke-linecap="butt"/>
<path d="M83.5,406.5 L85.5,406.5 L87.6,406.5 L89.6,406.5 L91.6,406.5 L93.6,406.5 L95.7,406.5 L97.7,406.5 L99.7,406.5 L101.8,406.5 L103.8,406.5 L105.8,406.5 L107.8,406.5 L109.9,406.5 L111.9,406.5 L113.9,406.5 L115.9,406.5 L118.0,406.5 L120.0,406.5 L122.0,406.5 L124.0,406.5 L126.0,406.5 L128.0,406.5 L130.0,406.5 L132.0,406.5 L134.0,406.5 L136.0,406.5 L138.0,406.5 L140.0,406.5 L142.0,406.5 L144.0,406.5 L146.0,406.5 L148.0,406.5 L150.0,406.5 L152.0,406.5 L154.0,406.5 L156.0,406.5 L158.0,406.5 L160.0,406.5 L162.0,406.4 L164.0,406.2 L166.0,406.1 L168.0,405.9 L170.0,405.7 L172.2,405.4 L174.4,405.0 L176.6,404.6 L178.8,404.2 L181.0,403.7 L183.2,403.2 L185.4,402.8 L187.6,402.3 L189.8,401.8 L192.0,401.3 L194.2,400.8 L196.4,400.3 L198.6,399.8 L200.8,399.4 L203.0,398.9 L205.2,398.5 L207.4,398.0 L209.6,397.6 L211.8,397.2 L214.0,396.9 L216.2,396.6 L218.4,396.3 L220.6,396.0 L222.8,395.7 L225.0,395.6 L227.2,395.5 L229.4,395.4 L231.6,395.4 L233.8,395.3 L236.0,395.3 L238.0,395.3 L240.0,395.2 L242.0,395.2 L244.0,395.2 L246.0,395.2 L248.0,395.2 L250.0,395.2 L252.0,395.2 L254.0,395.1 L256.0,395.1 L258.0,395.1 L260.0,395.1 L262.0,395.1 L264.0,395.0 L266.0,395.0 L268.0,395.0 L270.0,395.0 L272.0,395.0 L274.0,394.9 L276.0,394.9 L278.0,394.9 L280.0,394.9 L282.0,394.8 L284.0,394.8 L286.0,394.8 L288.0,394.8 L290.0,394.7 L292.0,394.7 L294.0,394.7 L296.0,394.7 L298.0,394.6 L300.0,394.6 L302.1,394.6 L304.1,394.5 L306.2,394.5 L308.2,394.5 L310.3,394.4 L312.3,394.4 L314.4,394.3 L316.4,394.3 L318.5,394.2 L320.6,394.2 L322.6,394.1 L324.7,394.1 L326.7,394.0 L328.8,393.9 L330.8,393.9 L332.9,393.8 L334.9,393.8 L337.0,393.7 L337.5,393.7" fill="none" stroke="#cc548f" stroke-width="2.8" stroke-linejoin="round" stroke-linecap="butt"/>
<path d="M337.0,393.7 L339.1,393.6 L341.1,393.6 L343.2,393.5 L345.2,393.4 L347.3,393.3 L349.4,393.2 L351.4,393.2 L353.5,393.1 L355.6,393.0 L357.6,392.9 L359.7,392.8 L361.8,392.7 L363.8,392.5 L365.9,392.4 L367.9,392.3 L370.0,392.2 L372.0,392.1 L374.0,391.9 L376.0,391.8 L378.0,391.6 L380.0,391.5 L382.0,391.3 L384.0,391.1 L386.0,391.0 L388.0,390.8 L390.0,390.6 L392.0,390.4 L394.0,390.2 L396.0,390.1 L398.0,389.9 L400.0,389.7 L402.0,389.5 L404.0,389.3 L406.0,389.1 L408.0,388.9 L410.0,388.7 L412.0,388.5 L414.0,388.4 L416.0,388.2 L418.0,388.0 L420.0,387.9 L422.1,387.8 L424.2,387.6 L426.3,387.5 L428.4,387.4 L430.5,387.2 L432.5,387.1 L434.6,387.0 L436.7,386.9 L438.8,386.9 L440.9,386.8 L443.0,386.8 L445.1,386.8 L447.2,386.9 L449.4,386.9 L451.5,387.0 L453.6,387.1 L455.8,387.2 L457.9,387.3 L460.0,387.4 L462.1,387.5 L464.2,387.6 L466.3,387.8 L468.4,387.9 L470.5,388.1 L472.6,388.2 L474.7,388.4 L476.8,388.6 L478.9,388.7 L481.0,388.9 L481.8,389.0" fill="none" stroke="url(#m_fcf)" stroke-width="2.8" stroke-linejoin="round" stroke-linecap="butt"/>
<path d="M481.5,388.9 L483.1,389.1 L485.2,389.2 L487.3,389.4 L489.4,389.6 L491.6,389.7 L493.7,389.9 L495.8,390.1 L497.9,390.2 L500.0,390.3 L502.1,390.4 L504.3,390.5 L506.4,390.6 L508.6,390.7 L510.7,390.7 L512.9,390.8 L515.0,390.8 L517.0,390.8 L519.1,390.8 L521.1,390.8 L523.2,390.7 L525.2,390.7 L527.3,390.7 L529.3,390.6 L531.4,390.6 L533.4,390.5 L535.5,390.5 L537.5,390.4 L539.5,390.4 L541.6,390.3 L543.6,390.3 L545.7,390.2 L547.7,390.1 L549.8,390.1 L551.8,390.0 L553.9,390.0 L555.9,389.9 L558.0,389.8 L560.0,389.8 L562.0,389.8 L564.0,389.7 L566.0,389.7 L568.0,389.6 L570.0,389.6 L572.0,389.5 L574.0,389.5 L576.0,389.4 L578.0,389.4 L580.0,389.3 L582.0,389.2 L584.0,389.2 L586.0,389.1 L588.0,389.1 L590.0,389.0 L592.0,389.0 L594.0,388.9 L596.0,388.9 L598.0,388.8 L600.0,388.8 L602.0,388.8 L604.0,388.7 L606.0,388.7 L608.0,388.6 L610.0,388.6 L612.0,388.5 L614.0,388.5 L616.0,388.5 L618.0,388.4 L620.0,388.4 L622.0,388.3 L624.0,388.3 L626.0,388.3 L628.0,388.2 L630.0,388.2 L632.0,388.1 L634.0,388.1 L636.0,388.1 L638.0,388.0 L640.0,388.0 L642.0,387.9 L644.0,387.9 L646.0,387.8 L648.0,387.8 L650.0,387.8 L652.0,387.7 L654.0,387.7 L656.0,387.6 L658.0,387.6 L660.0,387.5 L662.0,387.4 L664.0,387.4 L666.0,387.3 L668.0,387.3 L670.0,387.2 L672.0,387.1 L674.0,387.1 L676.0,387.0 L678.0,386.9 L680.0,386.8 L682.0,386.8 L684.0,386.7 L686.0,386.6 L688.0,386.5 L690.0,386.5 L692.0,386.4 L694.0,386.3 L696.0,386.2 L698.0,386.1 L700.0,386.1 L702.0,386.0 L704.0,385.9 L706.0,385.8 L708.0,385.8 L710.0,385.7 L712.0,385.6 L714.0,385.6 L716.1,385.5 L718.1,385.4 L720.1,385.3 L722.1,385.3 L724.1,385.2 L726.2,385.1 L728.2,385.1 L730.2,385.0 L732.2,384.9 L734.3,384.8 L736.3,384.8 L738.3,384.7 L740.3,384.6 L742.3,384.6 L744.4,384.5 L746.4,384.4 L748.4,384.4 L750.4,384.3 L752.4,384.2 L754.5,384.1 L756.5,384.1 L758.5,384.0 L760.5,383.9 L762.6,383.9 L764.6,383.8 L766.6,383.7 L768.6,383.7 L770.6,383.6 L772.7,383.5 L774.7,383.4 L776.7,383.4 L778.7,383.3 L780.7,383.2 L782.8,383.2 L784.8,383.1 L786.8,383.0 L788.8,383.0 L790.9,382.9 L792.9,382.8 L794.9,382.8 L796.9,382.7 L798.9,382.6 L801.0,382.5 L803.0,382.5 L805.0,382.4" fill="none" stroke="#cc548f" stroke-width="2.8" stroke-linejoin="round" stroke-linecap="butt"/>
<path d="M48.0,402.5 L50.1,402.5 L52.2,402.5 L54.3,402.5 L56.4,402.5 L58.4,402.5 L60.5,402.5 L62.6,402.5 L64.7,402.5 L66.8,402.5 L68.9,402.6 L71.0,402.6 L73.1,402.6 L75.1,402.6 L77.2,402.6 L79.3,402.6 L81.4,402.6 L83.5,402.6 L85.5,402.6 L87.6,402.6 L89.6,402.6 L91.6,402.6 L93.6,402.7 L95.7,402.7 L97.7,402.7 L99.7,402.7 L101.8,402.7 L103.8,402.7 L105.8,402.7 L107.8,402.8 L109.9,402.8 L111.9,402.8 L113.9,402.8 L115.9,402.8 L118.0,402.8 L120.0,402.8 L122.0,402.8 L124.0,402.8 L126.0,402.8 L128.0,402.8 L130.0,402.8 L132.0,402.8 L134.0,402.7 L136.0,402.7 L138.0,402.7 L140.0,402.7 L142.0,402.6 L144.0,402.6 L146.0,402.6 L148.0,402.6 L150.0,402.5 L152.0,402.5 L154.0,402.5 L156.0,402.5 L158.0,402.4 L160.0,402.4 L162.0,402.4 L164.0,402.3 L166.0,402.3 L168.0,402.3 L170.0,402.2 L172.0,402.2 L174.0,402.1 L176.0,402.1 L178.0,402.0 L180.0,402.0 L182.0,401.9 L184.0,401.8 L186.0,401.8 L188.0,401.7 L190.2,401.6 L192.3,401.5 L194.4,401.4 L196.6,401.2 L198.8,401.1 L200.9,400.9 L203.1,400.8 L205.2,400.6 L207.3,400.5 L209.5,400.3 L211.7,400.1 L213.9,399.9 L216.1,399.7 L218.2,399.5 L220.4,399.3 L222.6,399.1 L224.8,399.0 L227.0,398.9 L229.2,398.9 L231.3,398.8 L233.5,398.8 L235.7,398.8 L237.8,398.8 L240.0,398.8 L242.0,398.8 L244.0,398.8 L246.0,398.8 L248.0,398.8 L250.0,398.9 L252.0,398.9 L254.0,398.9 L256.0,398.9 L258.0,398.9 L260.1,398.9 L262.2,398.9 L264.2,398.9 L266.3,398.9 L268.4,398.9 L270.5,398.9 L272.5,398.8 L274.6,398.8 L276.7,398.8 L278.8,398.8 L280.8,398.8 L282.9,398.7 L285.0,398.7 L287.1,398.7 L289.2,398.6 L291.2,398.5 L293.3,398.4 L295.4,398.3 L297.5,398.2 L299.5,398.1 L301.6,398.0 L303.7,397.9 L305.8,397.8 L307.8,397.7 L309.9,397.7 L312.0,397.6 L314.0,397.6 L316.0,397.5 L318.0,397.5 L320.0,397.5 L322.0,397.4 L324.0,397.4 L326.0,397.4 L328.0,397.3 L330.0,397.3 L332.0,397.3 L334.0,397.3 L336.0,397.3 L337.5,397.3" fill="none" stroke="#82ddcd" stroke-width="2.8" stroke-linejoin="round" stroke-linecap="butt"/>
<path d="M337.0,397.3 L338.0,397.3 L340.0,397.4 L342.0,397.5 L344.0,397.7 L346.0,397.8 L348.0,398.0 L350.0,398.2 L352.0,398.3 L354.1,398.5 L356.2,398.7 L358.3,398.9 L360.4,399.1 L362.6,399.3 L364.7,399.5 L366.8,399.7 L368.9,399.8 L371.0,399.8 L373.1,399.8 L375.2,399.8 L377.4,399.8 L379.5,399.7 L381.6,399.7 L383.8,399.7 L385.9,399.6 L388.0,399.6 L390.1,399.5 L392.2,399.4 L394.4,399.3 L396.5,399.1 L398.6,398.9 L400.8,398.7 L402.9,398.5 L405.0,398.4 L407.1,398.3 L409.1,398.2 L411.2,398.1 L413.2,398.0 L415.3,397.9 L417.4,397.8 L419.4,397.7 L421.5,397.6 L423.5,397.5 L425.6,397.4 L427.6,397.3 L429.7,397.3 L431.8,397.2 L433.8,397.1 L435.9,397.0 L437.9,397.0 L440.0,396.9 L442.1,396.8 L444.1,396.8 L446.1,396.7 L448.2,396.7 L450.2,396.6 L452.3,396.6 L454.4,396.5 L456.4,396.5 L458.4,396.4 L460.5,396.4 L462.6,396.3 L464.6,396.3 L466.6,396.2 L468.7,396.2 L470.8,396.1 L472.8,396.1 L474.9,396.0 L476.9,395.9 L478.9,395.9 L481.0,395.8 L481.8,395.8" fill="none" stroke="url(#m_ern)" stroke-width="2.8" stroke-linejoin="round" stroke-linecap="butt"/>
<path d="M481.5,395.8 L483.1,395.7 L485.2,395.6 L487.3,395.5 L489.4,395.4 L491.6,395.2 L493.7,395.1 L495.8,394.9 L497.9,394.8 L500.0,394.7 L502.0,394.6 L504.0,394.5 L506.0,394.4 L508.0,394.3 L510.0,394.1 L512.0,394.0 L514.0,393.9 L516.0,393.8 L518.0,393.7 L520.0,393.6 L522.0,393.5 L524.0,393.4 L526.0,393.4 L528.0,393.3 L530.0,393.2 L532.0,393.1 L534.0,393.1 L536.0,393.0 L538.0,392.9 L540.0,392.9 L542.0,392.8 L544.0,392.8 L546.0,392.7 L548.0,392.7 L550.0,392.6 L552.0,392.6 L554.0,392.5 L556.0,392.5 L558.0,392.4 L560.0,392.4 L562.0,392.4 L564.0,392.3 L566.0,392.3 L568.0,392.3 L570.0,392.3 L572.0,392.2 L574.0,392.2 L576.0,392.2 L578.0,392.2 L580.0,392.1 L582.0,392.1 L584.0,392.1 L586.0,392.1 L588.0,392.1 L590.0,392.0 L592.0,392.0 L594.0,392.0 L596.0,392.0 L598.0,391.9 L600.0,391.9 L602.0,391.9 L604.0,391.8 L606.0,391.8 L608.0,391.8 L610.0,391.7 L612.0,391.7 L614.0,391.7 L616.0,391.6 L618.0,391.6 L620.0,391.6 L622.0,391.5 L624.0,391.5 L626.0,391.5 L628.0,391.4 L630.0,391.4 L632.0,391.4 L634.0,391.3 L636.0,391.3 L638.0,391.2 L640.0,391.2 L642.0,391.2 L644.0,391.1 L646.0,391.1 L648.0,391.0 L650.0,391.0 L652.0,391.0 L654.0,390.9 L656.0,390.9 L658.0,390.8 L660.0,390.8 L662.0,390.8 L664.0,390.7 L666.0,390.7 L668.0,390.6 L670.0,390.6 L672.0,390.5 L674.0,390.5 L676.0,390.5 L678.0,390.4 L680.0,390.4 L682.0,390.3 L684.0,390.3 L686.0,390.2 L688.0,390.2 L690.0,390.1 L692.0,390.1 L694.0,390.0 L696.0,390.0 L698.0,389.9 L700.0,389.9 L702.0,389.8 L704.0,389.8 L706.0,389.7 L708.0,389.7 L710.0,389.6 L712.0,389.5 L714.0,389.5 L716.1,389.4 L718.1,389.4 L720.1,389.3 L722.1,389.3 L724.1,389.2 L726.2,389.1 L728.2,389.1 L730.2,389.0 L732.2,388.9 L734.3,388.9 L736.3,388.8 L738.3,388.8 L740.3,388.7 L742.3,388.6 L744.4,388.6 L746.4,388.5 L748.4,388.4 L750.4,388.4 L752.4,388.3 L754.5,388.2 L756.5,388.1 L758.5,388.1 L760.5,388.0 L762.6,387.9 L764.6,387.9 L766.6,387.8 L768.6,387.7 L770.6,387.7 L772.7,387.6 L774.7,387.5 L776.7,387.5 L778.7,387.4 L780.7,387.3 L782.8,387.2 L784.8,387.2 L786.8,387.1 L788.8,387.0 L790.9,387.0 L792.9,386.9 L794.9,386.8 L796.9,386.8 L798.9,386.7 L801.0,386.6 L803.0,386.6 L805.0,386.5" fill="none" stroke="#82ddcd" stroke-width="2.8" stroke-linejoin="round" stroke-linecap="butt"/>
<rect x="16" y="440.8" width="789" height="1.3" fill="#464b54"/>
<circle cx="480.6" cy="233.1" r="4" fill="#2394df" stroke="#fff" stroke-width="1"/>
<circle cx="480.6" cy="395.8" r="4" fill="url(#gDot)" stroke="#fff" stroke-width="1"/>
<text x="24.5" y="133" font-size="11" fill="#fff" text-anchor="start" font-weight="normal" textLength="38.5" lengthAdjust="spacingAndGlyphs" stroke="#fff" stroke-width="0.3">HK$35b</text>
<text x="24.5" y="396" font-size="11" fill="#fff" text-anchor="start" font-weight="normal" textLength="27" lengthAdjust="spacingAndGlyphs" stroke="#fff" stroke-width="0.3">HK$0</text>
<text x="24.5" y="433" font-size="11" fill="#fff" text-anchor="start" font-weight="normal" textLength="36.5" lengthAdjust="spacingAndGlyphs" stroke="#fff" stroke-width="0.3">-HK$5b</text>
<text x="450.3" y="157" font-size="11" fill="#fff" text-anchor="start" font-weight="normal" textLength="22.5" lengthAdjust="spacingAndGlyphs" stroke="#fff" stroke-width="0.45">Past</text>
<text x="489.1" y="157" font-size="11" fill="#92959c" text-anchor="start" font-weight="normal" textLength="95.2" lengthAdjust="spacingAndGlyphs" stroke="#92959c" stroke-width="0.3">Analysts Forecasts</text>
<rect x="142" y="16" width="340" height="101" fill="#000"/>
<text x="150.2" y="34.8" font-size="11" fill="#fff" text-anchor="start" font-weight="normal" textLength="60" lengthAdjust="spacingAndGlyphs" stroke="#fff" stroke-width="0.42">Sep 30 2021</text>
<rect x="149.5" y="40" width="324.5" height="1" fill="#3a3a3a"/>
<text x="150.2" y="52" font-size="11" fill="#9a9a9a" text-anchor="start" font-weight="normal" textLength="41.0" lengthAdjust="spacingAndGlyphs" stroke="#9a9a9a" stroke-width="0.3">Revenue</text>
<text x="242.3" y="52" font-size="11" fill="#2394df" text-anchor="start" font-weight="normal" textLength="59.2" lengthAdjust="spacingAndGlyphs" stroke="#2394df" stroke-width="0.3">HK$22.719b</text>
<text x="305.6" y="52" font-size="11" fill="#9a9a9a" text-anchor="start" font-weight="normal" textLength="12.2" lengthAdjust="spacingAndGlyphs" stroke="#9a9a9a" stroke-width="0.3">/yr</text>
<rect x="149.5" y="57" width="324.5" height="1" fill="#3a3a3a"/>
<text x="150.2" y="69" font-size="11" fill="#9a9a9a" text-anchor="start" font-weight="normal" textLength="42.2" lengthAdjust="spacingAndGlyphs" stroke="#9a9a9a" stroke-width="0.3">Earnings</text>
<text x="242.3" y="69" font-size="11" fill="#71e7d6" text-anchor="start" font-weight="normal" textLength="53.6" lengthAdjust="spacingAndGlyphs" stroke="#71e7d6" stroke-width="0.3">HK$1.010b</text>
<text x="299.6" y="69" font-size="11" fill="#9a9a9a" text-anchor="start" font-weight="normal" textLength="12.2" lengthAdjust="spacingAndGlyphs" stroke="#9a9a9a" stroke-width="0.3">/yr</text>
<rect x="149.5" y="74" width="324.5" height="1" fill="#3a3a3a"/>
<text x="150.2" y="86" font-size="11" fill="#9a9a9a" text-anchor="start" font-weight="normal" textLength="75.5" lengthAdjust="spacingAndGlyphs" stroke="#9a9a9a" stroke-width="0.3">Free Cash Flow</text>
<text x="242.3" y="86" font-size="11" fill="#666" text-anchor="start" font-weight="normal" textLength="38.2" lengthAdjust="spacingAndGlyphs" stroke="#666" stroke-width="0.3">No data</text>
<rect x="149.5" y="91" width="324.5" height="1" fill="#3a3a3a"/>
<text x="150.2" y="103" font-size="11" fill="#9a9a9a" text-anchor="start" font-weight="normal" textLength="70.7" lengthAdjust="spacingAndGlyphs" stroke="#9a9a9a" stroke-width="0.3">Cash From Op</text>
<text x="242.3" y="103" font-size="11" fill="#666" text-anchor="start" font-weight="normal" textLength="38.2" lengthAdjust="spacingAndGlyphs" stroke="#666" stroke-width="0.3">No data</text>
<rect x="149.5" y="108" width="324.5" height="1" fill="#3a3a3a"/>
<rect x="16.5" y="481.5" width="81" height="27" rx="2" fill="none" stroke="#454a55"/>
<circle cx="32" cy="494" r="4.2" fill="#2394df"/>
<text x="44.5" y="497.9" font-size="11" fill="#d8dade" text-anchor="start" font-weight="normal" textLength="41.2" lengthAdjust="spacingAndGlyphs" stroke="#d8dade" stroke-width="0.3">Revenue</text>
<rect x="102.5" y="481.5" width="81.5" height="27" rx="2" fill="none" stroke="#454a55"/>
<circle cx="118" cy="494" r="4.2" fill="#71e7d6"/>
<text x="130.2" y="497.9" font-size="11" fill="#d8dade" text-anchor="start" font-weight="normal" textLength="42.2" lengthAdjust="spacingAndGlyphs" stroke="#d8dade" stroke-width="0.3">Earnings</text>
<rect x="190.0" y="481.5" width="113.89999999999998" height="27" rx="2" fill="none" stroke="#454a55"/>
<circle cx="204.7" cy="494" r="4.2" fill="#c7458b"/>
<text x="217.4" y="497.9" font-size="11" fill="#d8dade" text-anchor="start" font-weight="normal" textLength="75.6" lengthAdjust="spacingAndGlyphs" stroke="#d8dade" stroke-width="0.3">Free Cash Flow</text>
<rect x="309.7" y="481.5" width="109.19999999999999" height="27" rx="2" fill="none" stroke="#454a55"/>
<circle cx="324.7" cy="494" r="4.2" fill="#eeb15d"/>
<text x="337.4" y="497.9" font-size="11" fill="#d8dade" text-anchor="start" font-weight="normal" textLength="70.6" lengthAdjust="spacingAndGlyphs" stroke="#d8dade" stroke-width="0.3">Cash From Op</text>
</svg>
</body>
</html>
